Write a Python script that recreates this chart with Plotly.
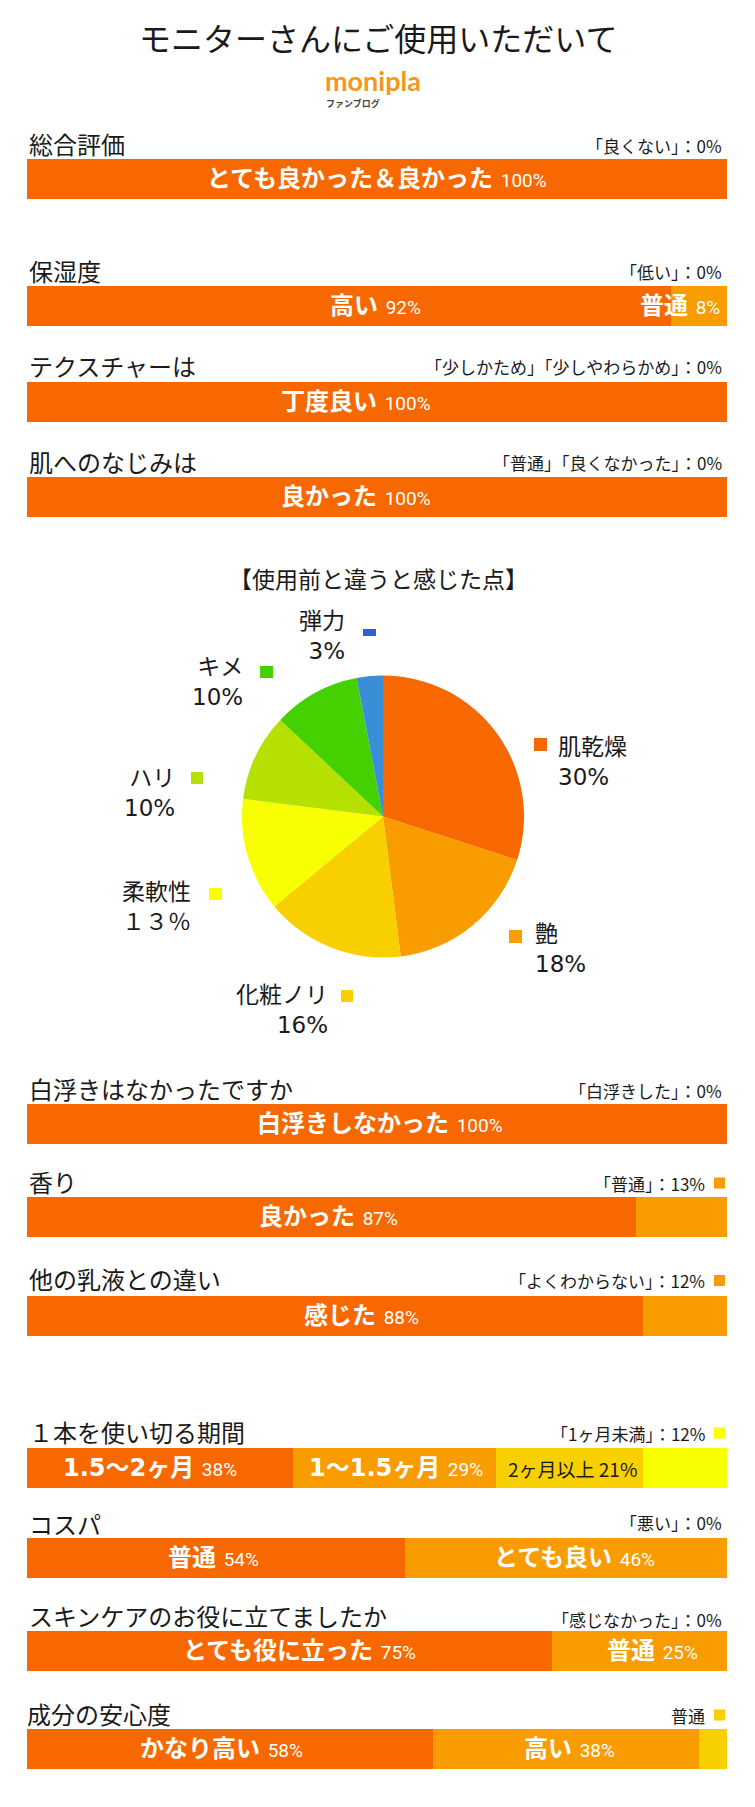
import plotly.graph_objects as go

W, H = 755, 1807

# ---------------- data ----------------
title = "モニターさんにご使用いただいて"
logo_main = "monipla"
logo_sub = "ファンブログ"

q_titles = ["総合評価", "保湿度", "テクスチャーは", "肌へのなじみは",
            "白浮きはなかったですか", "香り", "他の乳液との違い",
            "１本を使い切る期間", "コスパ", "スキンケアのお役に立てましたか", "成分の安心度"]
q_notes = ["「良くない」：0%", "「低い」：0%", "「少しかため」「少しやわらかめ」：0%",
           "「普通」「良くなかった」：0%", "「白浮きした」：0%", "「普通」：13%",
           "「よくわからない」：12%", "「1ヶ月未満」：12%", "「悪い」：0%",
           "「感じなかった」：0%", "普通"]
seg_labels = [["とても良かった＆良かった"], ["高い", "普通"], ["丁度良い"], ["良かった"],
              ["白浮きしなかった"], ["良かった", ""], ["感じた", ""],
              ["1.5～2ヶ月", "1～1.5ヶ月", "2ヶ月以上", ""], ["普通", "とても良い"],
              ["とても役に立った", "普通"], ["かなり高い", "高い", ""]]
seg_values = [[100], [92, 8], [100], [100], [100], [87, 13], [88, 12],
              [38, 29, 21, 12], [54, 46], [75, 25], [58, 38, 4]]

pie_title = "【使用前と違うと感じた点】"
pie_labels = ["肌乾燥", "艶", "化粧ノリ", "柔軟性", "ハリ", "キメ", "弾力"]
pie_values = [30, 18, 16, 13, 10, 10, 3]
pie_pct_text = ["30%", "18%", "16%", "１３％", "10%", "10%", "3%"]

# ---------------- styles / layout ----------------
ORANGE, LORANGE, GOLD, YELLOW = "#F76800", "#F99C00", "#F8D000", "#F9FF00"
PALETTE = [ORANGE, LORANGE, GOLD, YELLOW]
pie_colors = ["#F76800", "#F99C00", "#F8D000", "#F7FF00", "#B5E000", "#45D000", "#3A8ED6"]
pie_key_colors = ["#F76800", "#F99C00", "#F8D000", "#F7FF00", "#B5E000", "#45D000", "#2F5FD0"]

JP = "Noto Sans CJK JP"
X0, X1 = 26.5, 727.0
PX_PER_UNIT = (X1 - X0) / 100.0
BAR_H = 40
bar_tops = [159, 286, 381.5, 477, 1104, 1197, 1295.5, 1448, 1538, 1631, 1729]
label_y = [143, 270, 365, 461.5, 1088, 1181.5, 1278, 1431.5, 1523, 1615, 1713]
label_x = [27, 27, 27, 27, 27, 27, 27, 27, 27, 27, 25]
note_y = [145, 271.5, 366.5, 462, 1090.5, 1183, 1280.5, 1433, 1522, 1619, 1715]
note_key = [None, None, None, None, None, 1, 1, 3, None, None, 2]
text_dx = [[0], [27, None], [-21], [-21], [3], [-3, 0], [27, 0],
           [-10, 2, 3, 0], [-2, 9], [10, 13], [-8, 4, 0]]
dark_text = {(7, 2)}

fig = go.Figure()
annotations = []
shapes = []


def px(x):
    return x / W


# bars
for r, (labs, vals) in enumerate(zip(seg_labels, seg_values)):
    yc = bar_tops[r] + BAR_H / 2
    cum = 0
    for s, (lab, v) in enumerate(zip(labs, vals)):
        fig.add_trace(go.Bar(
            x=[v], y=[yc], orientation="h", width=BAR_H,
            marker=dict(color=PALETTE[s], line=dict(width=0)),
            hoverinfo="skip", showlegend=False))
        if lab:
            dx = text_dx[r][s]
            if (r, s) in dark_text:
                txt = f"{lab} {v}%"
                fnt = dict(family=JP, size=19, color="#1a1a1a")
            else:
                txt = (f"<b>{lab}</b> <span style=\"font-family:Liberation Sans Narrow, Roboto;"
                       f"font-size:19px\">{v}%</span>")
                fnt = dict(family="DejaVu Sans, " + JP, size=24, color="white")
            if dx is None:
                annotations.append(dict(x=px(X1 - 5), y=yc, xref="paper", yref="y",
                                        text=txt, showarrow=False, xanchor="right",
                                        yanchor="middle", font=fnt))
            else:
                annotations.append(dict(x=cum + v / 2 + dx / PX_PER_UNIT, y=yc,
                                        xref="x", yref="y", text=txt, showarrow=False,
                                        xanchor="center", yanchor="middle", font=fnt))
        cum += v

    # question title
    annotations.append(dict(x=px(label_x[r]), y=label_y[r], xref="paper", yref="y",
                            text=q_titles[r], showarrow=False, xanchor="left",
                            yanchor="middle", font=dict(family=JP, size=24, color="#1a1a1a")))
    # note
    k = note_key[r]
    nx = X1 - 3 if k is None else 707
    annotations.append(dict(x=px(nx), y=note_y[r], xref="paper", yref="y",
                            text=q_notes[r], showarrow=False, xanchor="right",
                            yanchor="middle", font=dict(family=JP, size=17, color="#1a1a1a")))
    if k is not None:
        shapes.append(dict(type="rect", xref="paper", yref="y",
                           x0=px(714), x1=px(725), y0=note_y[r] - 5.5, y1=note_y[r] + 5.5,
                           fillcolor=PALETTE[k], line=dict(width=0)))

# title & logo
annotations.append(dict(x=0.5, y=37, xref="paper", yref="y", text=title, showarrow=False,
                        xanchor="center", yanchor="middle",
                        font=dict(family=JP, size=32, color="#1a1a1a")))
annotations.append(dict(x=px(323), y=80, xref="paper", yref="y", text=f"<b>{logo_main}</b>",
                        showarrow=False, xanchor="left", yanchor="middle",
                        font=dict(family="Lato, Roboto", size=27, color="#F5961E")))
annotations.append(dict(x=px(324), y=103, xref="paper", yref="y", text=f"<b>{logo_sub}</b>",
                        showarrow=False, xanchor="left", yanchor="middle",
                        font=dict(family=JP, size=9, color="#444444")))

# pie
PCX, PCY, PR = 383, 816.5, 141
fig.add_trace(go.Pie(
    values=pie_values, labels=pie_labels, sort=False, direction="clockwise", rotation=0,
    textinfo="none", hoverinfo="skip", showlegend=False,
    marker=dict(colors=pie_colors, line=dict(width=0)),
    domain=dict(x=[(PCX - PR) / W, (PCX + PR) / W],
                y=[(H - PCY - PR) / H, (H - PCY + PR) / H])))

annotations.append(dict(x=px(378), y=578, xref="paper", yref="y", text=pie_title,
                        showarrow=False, xanchor="center", yanchor="middle",
                        font=dict(family=JP, size=23, color="#1a1a1a")))

# pie label placement (layout): anchor x, side, center y, key box (x0, x1, y0, y1)
pie_label_pos = [
    (556, "left", 762, (534, 547, 738, 751)),
    (533, "left", 949, (509, 522, 930, 943)),
    (330, "right", 1010, (341, 353, 990, 1002)),
    (193, "right", 907, (209, 222, 888, 900)),
    (177, "right", 793, (191, 203, 772, 784)),
    (245, "right", 682, (260, 273, 666, 678)),
    (347, "right", 636, (363, 376, 629, 636)),
]
for i, (lab, pct) in enumerate(zip(pie_labels, pie_pct_text)):
    ax, side, ay, (kx0, kx1, ky0, ky1) = pie_label_pos[i]
    annotations.append(dict(x=px(ax), y=ay, xref="paper", yref="y", text=f"{lab}<br>{pct}",
                            showarrow=False, xanchor=side, yanchor="middle", align=side,
                            font=dict(family="DejaVu Sans, " + JP, size=23, color="#1a1a1a")))
    shapes.append(dict(type="rect", xref="paper", yref="y", x0=px(kx0), x1=px(kx1),
                       y0=ky0, y1=ky1, fillcolor=pie_key_colors[i], line=dict(width=0)))

fig.update_layout(
    width=W, height=H, margin=dict(l=0, r=0, t=0, b=0),
    paper_bgcolor="white", plot_bgcolor="white",
    barmode="stack", showlegend=False, hovermode=False,
    xaxis=dict(domain=[X0 / W, X1 / W], range=[0, 100], visible=False, fixedrange=True),
    yaxis=dict(domain=[0, 1], range=[H, 0], visible=False, fixedrange=True),
    annotations=annotations, shapes=shapes,
)

fig.write_html("out.html", config={"displayModeBar": False})
